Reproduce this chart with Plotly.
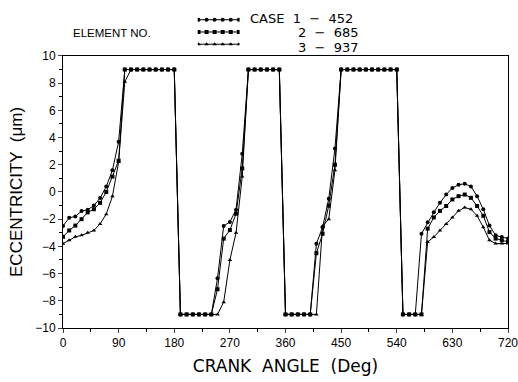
import plotly.graph_objects as go

angles = list(range(0, 730, 10))

case1 = [-2.5, -1.9, -1.8, -1.4, -1.3, -1.0, -0.45, 0.4, 1.6, 3.7,
         9, 9, 9, 9, 9, 9, 9, 9, 9,
         -9, -9, -9, -9, -9, -9,
         -6.35, -2.5, -2.2, -1.3, 2.8,
         9, 9, 9, 9, 9, 9,
         -9, -9, -9, -9, -9,
         -3.8, -2.6, -0.5, 3.2,
         9, 9, 9, 9, 9, 9, 9, 9, 9, 9,
         -9, -9, -9,
         -3.07, -2.23, -1.5, -0.79, -0.19, 0.29, 0.53, 0.6, 0.41, -0.31, -1.27, -2.47, -3.19, -3.31, -3.43]

case2 = [-3.3, -2.83, -2.47, -2.0, -1.5, -1.27, -0.8, 0.0, 1.13, 2.3,
         9, 9, 9, 9, 9, 9, 9, 9, 9,
         -9, -9, -9, -9, -9, -9,
         -7.15, -3.43, -2.8, -1.6, 1.73,
         9, 9, 9, 9, 9, 9,
         -9, -9, -9, -9, -9,
         -4.5, -3.07, -1.0, 2.0,
         9, 9, 9, 9, 9, 9, 9, 9, 9, 9,
         -9, -9, -9, -9,
         -2.7, -1.87, -1.39, -1.03, -0.55, -0.31, -0.19, -0.43, -1.03, -1.75, -2.95, -3.43, -3.55, -3.67]

case3 = [-3.8, -3.55, -3.3, -3.19, -3.0, -2.83, -2.35, -1.63, -0.31, 2.2,
         8.1, 9, 9, 9, 9, 9, 9, 9, 9,
         -9, -9, -9, -9, -9, -9, -9,
         -8.1, -5.0, -3.0, 1.13,
         9, 9, 9, 9, 9, 9,
         -9, -9, -9, -9, -9, -9,
         -2.5, -2.0, 1.6,
         9, 9, 9, 9, 9, 9, 9, 9, 9, 9,
         -9, -9, -9, -9,
         -3.67, -3.31, -2.83, -2.35, -1.87, -1.39, -1.15, -1.27, -1.75, -2.59, -3.55, -3.79, -3.79, -3.79]

case_labels = ["CASE  1  \u2212  452", "2  \u2212  685", "3  \u2212  937"]
symbols = ["circle", "square", "triangle-up"]
series = [case1, case2, case3]

x_ticks = [0, 90, 180, 270, 360, 450, 540, 630, 720]
y_ticks = [-10, -8, -6, -4, -2, 0, 2, 4, 6, 8, 10]

FONT = "Liberation Sans"
TFONT = "DejaVu Sans"
fig = go.Figure()

for vals, sym in zip(series, symbols):
    fig.add_trace(go.Scatter(
        x=angles, y=vals, mode="lines+markers",
        line=dict(color="black", width=1),
        marker=dict(symbol=sym, size=4, color="black"),
        showlegend=False, xaxis="x", yaxis="y"))

# legend samples on a small helper axis
sample_x = [0, 1, 2, 3, 4, 5]
rows = [3, 2, 1]
for r, sym in zip(rows, symbols):
    fig.add_trace(go.Scatter(
        x=sample_x, y=[r] * len(sample_x), mode="lines+markers",
        line=dict(color="black", width=1),
        marker=dict(symbol=sym, size=4, color="black"),
        showlegend=False, xaxis="x2", yaxis="y2"))

H = 382
B = 54
plot_h = H - B
main_top = 278 / plot_h

fig.update_layout(
    width=518, height=382,
    margin=dict(l=63, r=9, t=0, b=B),
    paper_bgcolor="white", plot_bgcolor="white",
    font=dict(family=FONT, color="black", size=12),
    xaxis=dict(range=[0, 720], tickvals=x_ticks, ticks="outside", ticklen=4,
               minor=dict(dtick=45, ticks="outside", ticklen=3, tickcolor="black"),
               showline=True, linecolor="black", linewidth=1, mirror=True,
               showgrid=False, zeroline=False, ticklabeloverflow="allow",
               tickfont=dict(size=12, family=FONT),
               title=dict(text="CRANK  ANGLE  (Deg)", font=dict(size=17, family=TFONT), standoff=10)),
    yaxis=dict(range=[-10, 10], tickvals=y_ticks, domain=[0, main_top],
               ticks="outside", ticklen=4,
               minor=dict(dtick=1, ticks="outside", ticklen=3, tickcolor="black"),
               showline=True, linecolor="black", linewidth=1, mirror=True,
               showgrid=False, zeroline=False, ticklabeloverflow="allow",
               tickfont=dict(size=12, family=FONT),
               title=dict(text="ECCENTRICITY  (\u03bcm)", font=dict(size=17, family=FONT), standoff=8)),
    xaxis2=dict(domain=[(198 - 63) / 446, (240 - 63) / 446], range=[-0.1, 5.1],
                visible=False, anchor="y2"),
    yaxis2=dict(domain=[0.86, 1.0], range=[0.37, 4.04], visible=False, anchor="x2"),
)

ann_py = [12, 26.5, 41]
ann_y = [1 - p / plot_h for p in ann_py]
fig.add_annotation(x=(248 - 63) / 446, y=ann_y[0], xref="paper", yref="paper",
                   text=case_labels[0], showarrow=False, xanchor="left", yanchor="middle",
                   font=dict(size=13, family=TFONT))
for i in (1, 2):
    fig.add_annotation(x=(297 - 63) / 446, y=ann_y[i], xref="paper", yref="paper",
                       text=case_labels[i], showarrow=False, xanchor="left", yanchor="middle",
                       font=dict(size=13, family=TFONT))
fig.add_annotation(x=(71 - 63) / 446, y=1 - 27 / plot_h, xref="paper", yref="paper",
                   text="ELEMENT NO.", showarrow=False, xanchor="left", yanchor="middle",
                   font=dict(size=11.5, family=FONT))

fig.write_html("out.html")
